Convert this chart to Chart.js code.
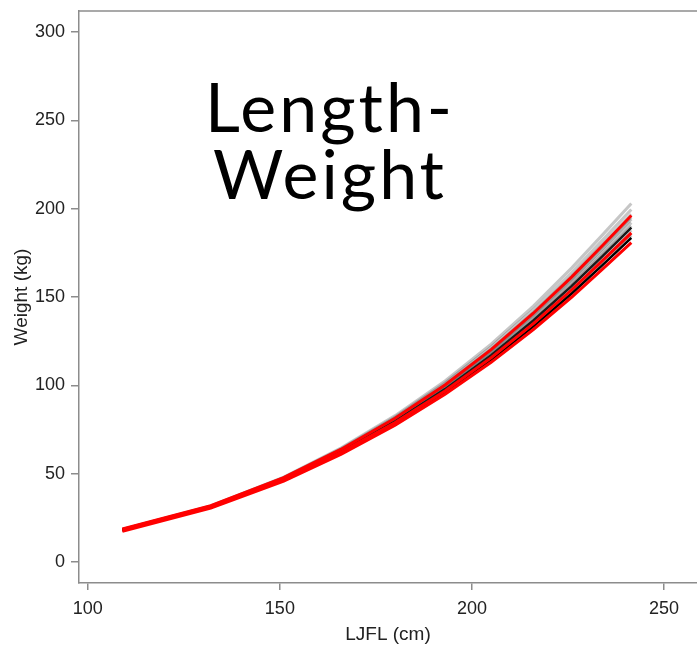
<!DOCTYPE html>
<html>
<head>
<meta charset="utf-8">
<script src="https://cdn.jsdelivr.net/npm/chart.js@4.4.1/dist/chart.umd.min.js"></script>
<style>
  html, body { margin: 0; padding: 0; background: #fff; }
  #wrap { position: relative; width: 697px; height: 650px; }
  #title {
    position: absolute; left: 130px; top: 72px; width: 400px;
    text-align: center; font-family: Lato, sans-serif; font-size: 68px;
    line-height: 67px; color: #000; letter-spacing: 3px;
  }
</style>
</head>
<body>
<div id="wrap">
  <canvas id="lw" width="697" height="650"></canvas>
  <div id="title">Length-<br>Weight</div>
</div>
<script>
// lower-jaw fork length (cm) at which each fitted curve is evaluated
const lengths = [109, 132, 151, 166, 180, 193, 205, 216, 226, 234, 241.5];

// highlighted fits (red)
const redUpper = [18.6, 31.8, 47.7, 63.8, 81.3, 100.2, 120.2, 140.8, 161.4, 179.2, 196.2];
const redMid   = [18.0, 31.0, 46.6, 62.1, 78.9, 96.8, 115.6, 134.9, 154.1, 170.6, 186.3];
const redLower = [17.3, 30.4, 45.7, 61.0, 77.4, 94.9, 113.0, 131.6, 150.0, 165.8, 180.8];

// point estimates (black)
const blackA = [17.8, 30.8, 46.2, 61.6, 78.1, 95.8, 114.3, 133.2, 152.0, 168.1, 183.5];
const blackB = [18.1, 31.1, 46.8, 62.5, 79.6, 97.8, 117.0, 136.7, 156.3, 173.2, 189.3];

// posterior draws (grey)
const draws = [
  [18.4, 31.7, 48.0, 64.6, 82.8, 102.5, 123.3, 144.8, 166.5, 185.2, 203.0],
  [18.3, 31.5, 47.7, 64.1, 82.0, 101.3, 121.7, 142.8, 163.9, 182.2, 199.6],
  [18.3, 31.4, 47.5, 63.7, 81.3, 100.4, 120.4, 141.2, 161.9, 179.8, 196.8],
  [18.2, 31.3, 47.3, 63.4, 80.9, 99.8, 119.6, 140.2, 160.7, 178.4, 195.2],
  [18.2, 31.2, 47.2, 63.2, 80.6, 99.4, 119.1, 139.4, 159.7, 177.2, 194.0],
  [18.1, 31.2, 47.0, 62.9, 80.2, 98.8, 118.2, 138.3, 158.4, 175.6, 192.1],
  [18.1, 31.1, 46.9, 62.7, 79.8, 98.1, 117.4, 137.2, 157.0, 174.0, 190.2],
  [18.0, 31.1, 46.7, 62.3, 79.2, 97.3, 116.3, 135.8, 155.2, 171.9, 187.8],
  [18.0, 31.0, 46.5, 62.1, 78.8, 96.7, 115.5, 134.6, 153.8, 170.4, 185.9],
  [17.9, 31.0, 46.4, 61.9, 78.5, 96.3, 114.9, 133.9, 152.9, 169.2, 184.7]
];

const xTicks = [100, 150, 200, 250];
const yTicks = [0, 50, 100, 150, 200, 250, 300];

const pts = ys => lengths.map((x, i) => ({ x: x, y: ys[i] }));
const line = (ys, color, width) => ({
  data: pts(ys), borderColor: color, borderWidth: width,
  pointRadius: 0, tension: 0, fill: false
});

// first dataset is painted last, so reds go first to sit on top
const datasets = [
  line(redUpper, '#ff0000', 3),
  line(redMid, '#ff0000', 3),
  line(redLower, '#ff0000', 3),
  line(blackA, '#000000', 2.5),
  line(blackB, '#1a1a1a', 2.5)
].concat(draws.map(d => line(d, 'rgba(50,50,50,0.28)', 3)));

const axisGrey = '#8c8c8c';
const tickFont = { family: 'Liberation Sans, Arial, sans-serif', size: 18 };

// R-style box: top edge of the plotting region
const boxTop = {
  id: 'boxTop',
  afterDraw(chart) {
    const { ctx, chartArea } = chart;
    ctx.save();
    ctx.strokeStyle = axisGrey;
    ctx.lineWidth = 1.5;
    ctx.beginPath();
    ctx.moveTo(chartArea.left, chartArea.top);
    ctx.lineTo(chartArea.right, chartArea.top);
    ctx.stroke();
    ctx.restore();
  }
};

new Chart(document.getElementById('lw'), {
  type: 'line',
  data: { datasets: datasets },
  plugins: [boxTop],
  options: {
    responsive: false,
    animation: false,
    devicePixelRatio: 1,
    layout: { padding: { top: 11, right: 0, left: 0, bottom: 0 } },
    plugins: { legend: { display: false }, tooltip: { enabled: false } },
    scales: {
      x: {
        type: 'linear', min: 97.7, max: 258.6,
        afterBuildTicks: s => { s.ticks = xTicks.map(v => ({ value: v })); },
        afterFit: s => { s.height = 67; s.paddingLeft = 0; s.paddingRight = 0; },
        grid: { drawOnChartArea: false, drawTicks: true, tickLength: 7, color: axisGrey, lineWidth: 1.5 },
        border: { display: true, color: axisGrey, width: 1.5 },
        ticks: { font: tickFont, color: '#222', padding: 8, maxRotation: 0 },
        title: { display: true, text: 'LJFL (cm)', font: { family: tickFont.family, size: 19 }, color: '#222', padding: { top: 9 } }
      },
      y: {
        type: 'linear', min: -12, max: 312,
        afterBuildTicks: s => { s.ticks = yTicks.map(v => ({ value: v })); },
        afterFit: s => { s.width = 79; s.paddingTop = 0; s.paddingBottom = 0; },
        grid: { drawOnChartArea: false, drawTicks: true, tickLength: 8, color: axisGrey, lineWidth: 1.5 },
        border: { display: true, color: axisGrey, width: 1.5 },
        ticks: { font: tickFont, color: '#222', padding: 6 },
        title: { display: true, text: 'Weight (kg)', font: { family: tickFont.family, size: 19 }, color: '#222', padding: { top: 10, bottom: 2 } }
      }
    }
  }
});
</script>
</body>
</html>
